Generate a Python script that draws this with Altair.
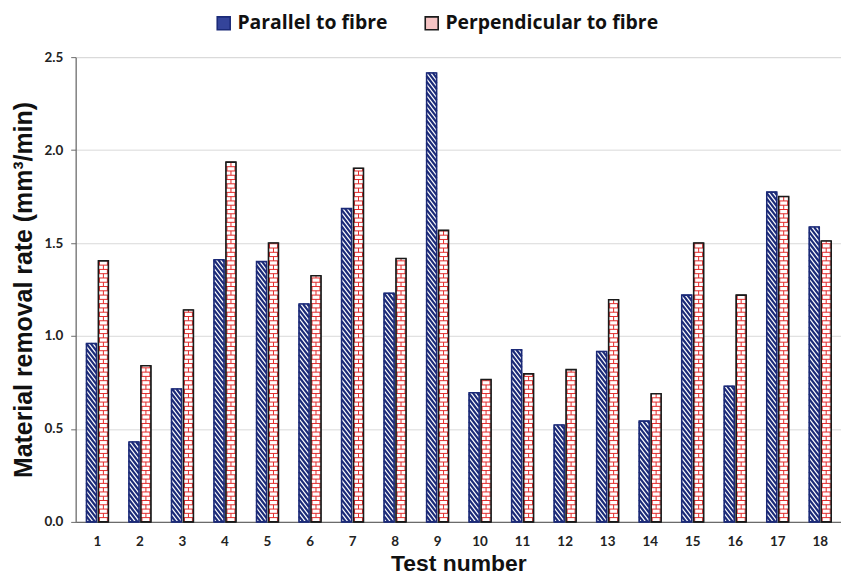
import altair as alt
import pandas as pd

# ---- data ----
tests = list(range(1, 19))
parallel = [0.96, 0.43, 0.715, 1.41, 1.40, 1.172, 1.685, 1.23, 2.415, 0.695,
            0.926, 0.521, 0.917, 0.542, 1.22, 0.73, 1.774, 1.586]
perpendicular = [1.404, 0.84, 1.14, 1.935, 1.50, 1.324, 1.902, 1.417, 1.568, 0.766,
                 0.796, 0.819, 1.195, 0.689, 1.50, 1.22, 1.75, 1.511]
series = ["Parallel to fibre", "Perpendicular to fibre"]
y_ticks = [0.0, 0.5, 1.0, 1.5, 2.0, 2.5]

# ---- layout / style ----
W, H = 769, 467
Y_MAX = 2.5
ppx = W / 18.0          # pixels per x unit
ppy = H / Y_MAX         # pixels per y unit
NAVY = "#1b2a78"
RED = "#e32a2a"
DARK = "#1a1a1a"
BAR_OFF = {series[0]: (-10.5, -0.5), series[1]: (1.5, 11.5)}

# bar rectangles
bar_rows = []
for s, vals in zip(series, [parallel, perpendicular]):
    lo, hi = BAR_OFF[s]
    for t, v in zip(tests, vals):
        bar_rows.append({"test": t, "series": s, "x0": t + lo / ppx, "x1": t + hi / ppx,
                         "value": v, "base": 0.0})
bars = pd.DataFrame(bar_rows)

# diagonal hatch ("\") for the parallel bars, derived from the values
hatch_rows = []
lo, hi = BAR_OFF[series[0]]
d_px = 13.0     # drop of one hatch line across the bar
s_px = 5.6      # vertical spacing of hatch lines
for t, v in zip(tests, parallel):
    xl, xr = t + lo / ppx, t + hi / ppx
    T = v * ppy
    b = -d_px
    while b < T:
        yl = b + d_px
        tmin = max(0.0, (yl - T) / d_px)
        tmax = min(1.0, yl / d_px)
        if tmin < tmax:
            hatch_rows.append({"x": xl + tmin * (xr - xl), "x2": xl + tmax * (xr - xl),
                               "y": (yl - tmin * d_px) / ppy, "y2": (yl - tmax * d_px) / ppy})
        b += s_px
hatch = pd.DataFrame(hatch_rows)

# brick pattern for the perpendicular bars, derived from the values
brick_rows = []
lo, hi = BAR_OFF[series[1]]
r_px = 4.3
for t, v in zip(tests, perpendicular):
    xl, xr = t + lo / ppx, t + hi / ppx
    T = v * ppy
    k = 1
    while (k - 1) * r_px < T:
        y_lo = (k - 1) * r_px
        y_hi = min(k * r_px, T)
        if k * r_px < T:
            brick_rows.append({"x": xl, "x2": xr, "y": k * r_px / ppy, "y2": k * r_px / ppy})
        offs = [1.0, 9.0] if k % 2 else [5.0]
        for o in offs:
            xx = xl + o / ppx
            brick_rows.append({"x": xx, "x2": xx, "y": y_lo / ppy, "y2": y_hi / ppy})
        k += 1
brick = pd.DataFrame(brick_rows)

xscale = alt.Scale(domain=[0.5, 18.5], nice=False, zero=False)
yscale = alt.Scale(domain=[0, Y_MAX], nice=False)

x_axis = alt.Axis(values=tests, title="Test number", grid=False, ticks=False, tickSize=0,
                  labelFont="Lato", labelFontWeight="bold", labelFontSize=13.5, labelColor="#222222",
                  labelPadding=13, labelFlush=False, domainColor="#6b6b6b", domainWidth=1.2,
                  titleFont="Liberation Sans", titleFontWeight="bold", titleFontSize=23,
                  titleColor="#111111", titleBaseline="alphabetic", titleY=49)
y_axis = alt.Axis(values=y_ticks, format=".1f", title="Material removal rate (mm³/min)",
                  grid=True, gridColor="#d9d9d9", gridWidth=1,
                  tickSize=5, tickColor="#6b6b6b", domainColor="#6b6b6b", domainWidth=1.2,
                  labelFont="Lato", labelFontWeight="bold", labelFontSize=13.5, labelColor="#222222",
                  labelPadding=8,
                  titleFont="Liberation Sans", titleFontWeight="bold", titleFontSize=25,
                  titleColor="#111111", titleBaseline="alphabetic", titleAngle=-90,
                  titleX=-44, titleY=H / 2, titleAlign="center")

legend = alt.Legend(title=None, orient="none", legendX=139, legendY=-44, direction="horizontal",
                    symbolType="square", symbolSize=169, symbolStrokeWidth=1.6,
                    labelFont="Open Sans", labelFontWeight="bold", labelFontSize=19.5, labelColor="#111111",
                    labelLimit=400, labelOffset=4, columnPadding=34)

base = alt.Chart(bars)

legend_layer = base.mark_rect().encode(
    x=alt.X("x0:Q", scale=xscale, axis=x_axis),
    x2="x1:Q",
    y=alt.Y("value:Q", scale=yscale, axis=y_axis),
    y2="base:Q",
    fill=alt.Fill("series:N", scale=alt.Scale(domain=series, range=["#34449a", "#f6c4c4"]), legend=legend),
    stroke=alt.Stroke("series:N", scale=alt.Scale(domain=series, range=[NAVY, DARK]), legend=legend),
)

white_layer = base.mark_rect(fill="white", strokeWidth=0).encode(
    x=alt.X("x0:Q", scale=xscale), x2="x1:Q",
    y=alt.Y("value:Q", scale=yscale), y2="base:Q",
)

hatch_layer = alt.Chart(hatch).mark_rule(color=NAVY, strokeWidth=2.2, strokeCap="butt").encode(
    x=alt.X("x:Q", scale=xscale), x2="x2:Q",
    y=alt.Y("y:Q", scale=yscale), y2="y2:Q",
)

brick_layer = alt.Chart(brick).mark_rule(color=RED, strokeWidth=1.0, strokeCap="butt").encode(
    x=alt.X("x:Q", scale=xscale), x2="x2:Q",
    y=alt.Y("y:Q", scale=yscale), y2="y2:Q",
)

outline_layer = base.mark_rect(fillOpacity=0, strokeWidth=1.6).encode(
    x=alt.X("x0:Q", scale=xscale), x2="x1:Q",
    y=alt.Y("value:Q", scale=yscale), y2="base:Q",
    stroke=alt.Stroke("series:N", scale=alt.Scale(domain=series, range=[NAVY, DARK]), legend=None),
)

chart = alt.layer(legend_layer, white_layer, hatch_layer, brick_layer, outline_layer).properties(
    width=W, height=H,
    autosize=alt.AutoSizeParams(type="none"),
    padding={"left": 68, "top": 48, "right": 0, "bottom": 55},
).configure_view(stroke=None).configure(background="white")

chart.save("out.html", embed_options={"renderer": "svg", "actions": False})
